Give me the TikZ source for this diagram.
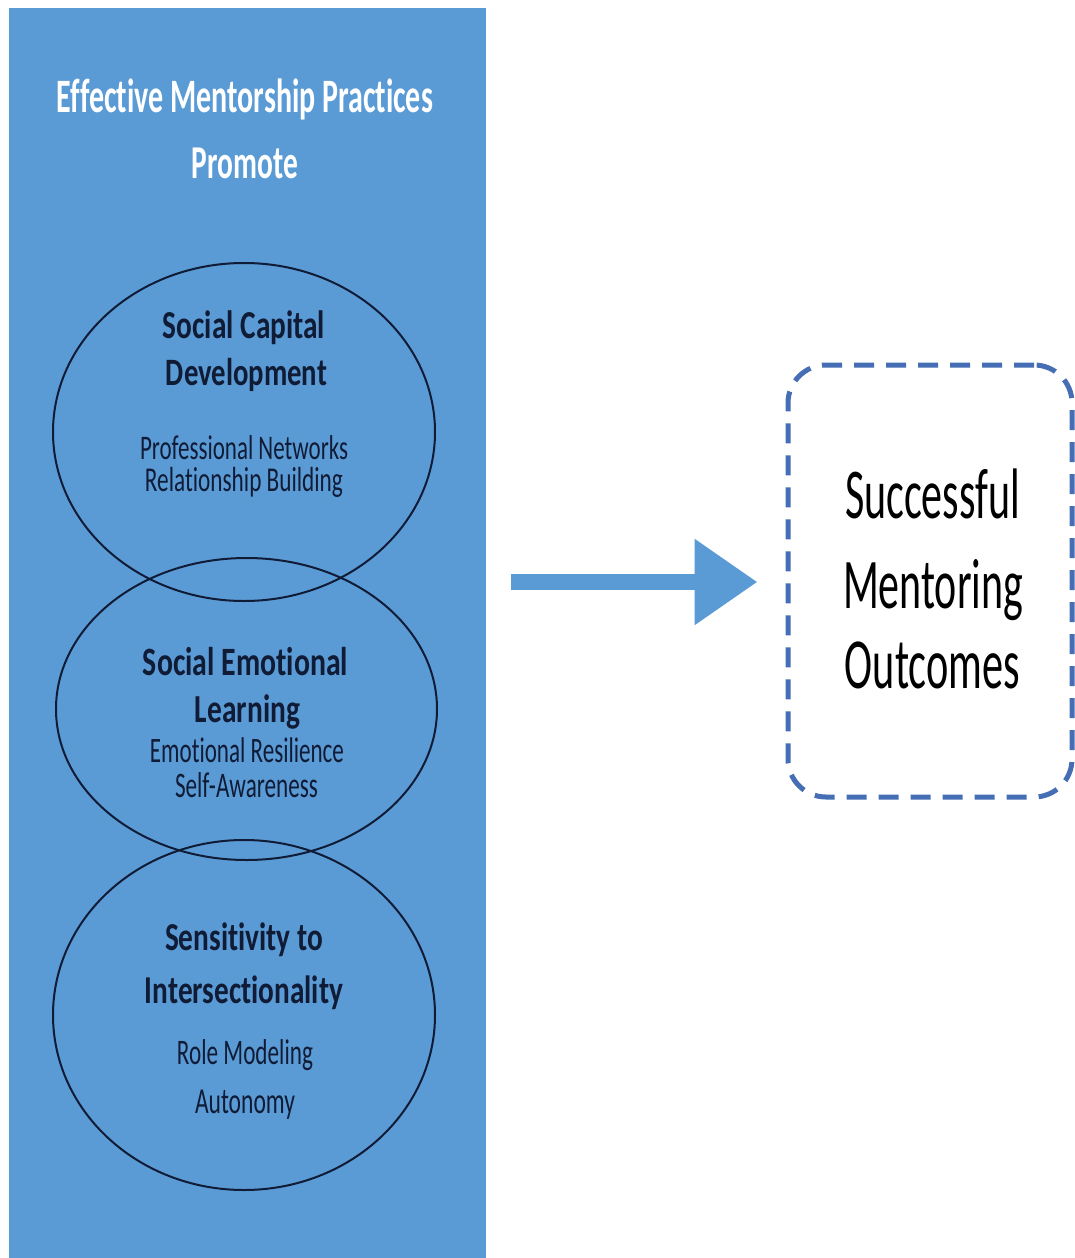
\documentclass[tikz,border=0pt]{standalone}
\usepackage{fontspec}
\setmainfont{Carlito}[RawFeature={-liga;-clig;-calt;-dlig}]
\usepackage{graphicx}
\usetikzlibrary{shapes.geometric,arrows.meta}
\definecolor{panelblue}{RGB}{91,155,213}
\definecolor{ink}{RGB}{16,27,54}
\definecolor{dashblue}{RGB}{70,110,180}
\newcommand{\fitline}[3]{\scalebox{1}[#1]{\resizebox{#2pt}{!}{#3}}}
\tikzset{
  txt/.style={inner sep=0pt, outer sep=0pt, anchor=base, text=ink},
  ring/.style={ellipse, draw=ink, line width=2pt, inner sep=0pt},
}
\begin{document}
\begin{tikzpicture}[x=1pt,y=-1pt]
\useasboundingbox (0,0) rectangle (1075,1258);
\fill[white] (0,0) rectangle (1075,1258);
% panel
\node[fill=panelblue, draw=none, inner sep=0pt, minimum width=477pt, minimum height=1250pt] (panel) at (247.5,633) {};
% title
\node[txt, text=white] (title1) at (245,112) {\fitline{1.6}{376}{\bfseries Effective Mentorship Practices}};
\node[txt, text=white] (title2) at (245,178) {\fitline{1.6}{106}{\bfseries Promote}};
% ellipses
\node[ring, minimum width=382pt, minimum height=338pt] (e1) at (244,432) {};
\node[ring, minimum width=381pt, minimum height=302pt] (e2) at (246.5,709) {};
\node[ring, minimum width=382pt, minimum height=350pt] (e3) at (244,1015) {};
% ellipse 1 text
\node[txt] (h1a) at (244,338) {\fitline{1.35}{162}{\bfseries Social Capital}};
\node[txt] (h1b) at (246.5,385) {\fitline{1.35}{161}{\bfseries Development}};
\node[txt] (s1a) at (244,459) {\fitline{1.5}{208}{Professional Networks}};
\node[txt] (s1b) at (244,491) {\fitline{1.5}{198}{Relationship Building}};
% ellipse 2 text
\node[txt] (h2a) at (245.5,675) {\fitline{1.35}{205}{\bfseries Social Emotional}};
\node[txt] (h2b) at (247.5,722) {\fitline{1.35}{105}{\bfseries Learning}};
\node[txt] (s2a) at (247,762) {\fitline{1.55}{194}{Emotional Resilience}};
\node[txt] (s2b) at (246.5,797) {\fitline{1.55}{143}{Self-Awareness}};
% ellipse 3 text
\node[txt] (h3a) at (244,950) {\fitline{1.35}{158}{\bfseries Sensitivity to}};
\node[txt] (h3b) at (244,1003) {\fitline{1.35}{198}{\bfseries Intersectionality}};
\node[txt] (s3a) at (245,1064) {\fitline{1.55}{136}{Role Modeling}};
\node[txt] (s3b) at (245,1113) {\fitline{1.55}{100}{Autonomy}};
% outcome box
\node[draw=dashblue, line width=5pt, dash pattern=on 20pt off 12pt, rounded corners=38pt, minimum width=284pt, minimum height=432pt, inner sep=0pt] (out) at (930,581) {};
\node[txt, text=black] (o1) at (932.5,518) {\fitline{1.7}{175}{Successful}};
\node[txt, text=black] (o2) at (933,608) {\fitline{1.7}{180}{Mentoring}};
\node[txt, text=black] (o3) at (932.5,688) {\fitline{1.7}{175}{Outcomes}};
% arrow
\coordinate (arrS) at (511,582);
\draw[panelblue, line width=16pt, -{Triangle[length=63pt, width=82pt]}] (arrS) -- ([xshift=-28pt]out.west |- arrS);
\end{tikzpicture}
\end{document}
